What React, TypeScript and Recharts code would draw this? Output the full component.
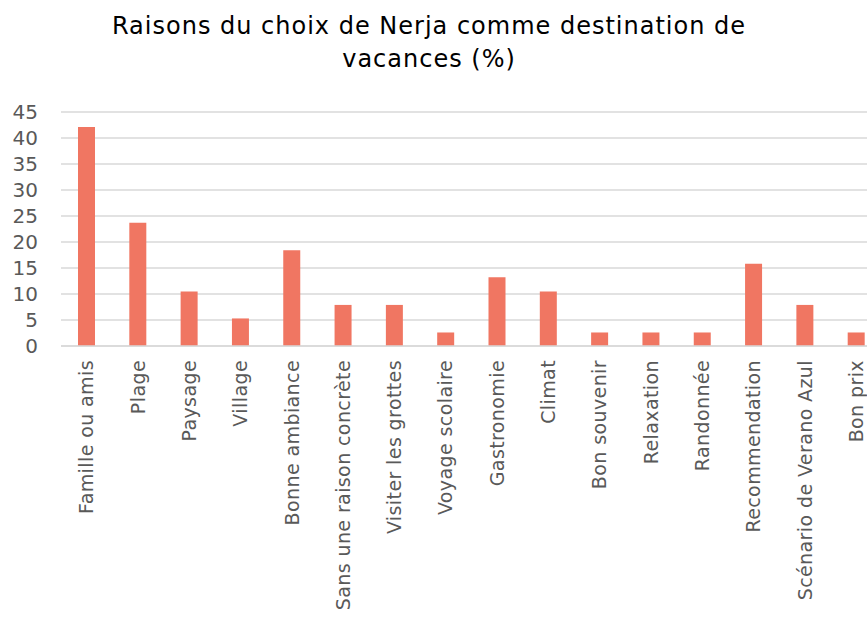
import React from 'react';
import { BarChart, Bar, XAxis, YAxis, CartesianGrid } from 'recharts';

const categories = [
  'Famille ou amis', 'Plage', 'Paysage', 'Village', 'Bonne ambiance',
  'Sans une raison concrète', 'Visiter les grottes', 'Voyage scolaire',
  'Gastronomie', 'Climat', 'Bon souvenir', 'Relaxation', 'Randonnée',
  'Recommendation', 'Scénario de Verano Azul', 'Bon prix',
];
const values = [42.1, 23.7, 10.5, 5.3, 18.4, 7.9, 7.9, 2.6, 13.2, 10.5, 2.6, 2.6, 2.6, 15.8, 7.9, 2.6];
const yTicks = [0, 5, 10, 15, 20, 25, 30, 35, 40, 45];
const title1 = 'Raisons du choix de Nerja comme destination de';
const title2 = 'vacances (%)';

const data = categories.map((name, i) => ({ name, value: values[i] }));

const FONT = '"Century Gothic", "DejaVu Sans", sans-serif';

const XTick = (props: any) => {
  const { x, y, payload } = props;
  return (
    <text
      x={x}
      y={y}
      dy="0.35em"
      transform={`rotate(-90, ${x}, ${y})`}
      textAnchor="end"
      fill="#595959"
      fontSize={19}
      letterSpacing={0.4}
      fontFamily={FONT}
    >
      {payload.value}
    </text>
  );
};

export default function App() {
  return (
    <div style={{ position: 'fixed', left: 0, top: 0, width: 867, height: 617, overflow: 'hidden', background: '#fff' }}>
      <div
        style={{
          position: 'absolute', left: 0, top: 10, width: 858, textAlign: 'center',
          fontFamily: FONT, fontSize: 24, lineHeight: '33px', color: '#000', letterSpacing: 1,
        }}
      >
        <div>{title1}</div>
        <div>{title2}</div>
      </div>
      <div style={{ position: 'absolute', left: 0, top: 0 }}>
        <BarChart
          width={900}
          height={640}
          data={data}
          margin={{ top: 112, right: 18, bottom: 0, left: 0 }}
          barSize={17}
        >
          <CartesianGrid vertical={false} stroke="#D9D9D9" strokeWidth={1.5} />
          <XAxis
            dataKey="name"
            interval={0}
            height={294}
            tickLine={false}
            axisLine={{ stroke: '#D9D9D9', strokeWidth: 1.5 }}
            tick={<XTick />}
            tickMargin={8}
          />
          <YAxis
            domain={[0, 45]}
            ticks={yTicks}
            interval={0}
            width={61}
            tickLine={false}
            axisLine={false}
            tickMargin={17}
            tick={{ fill: '#595959', fontSize: 20, fontFamily: FONT }}
          />
          <Bar dataKey="value" fill="#F07662" isAnimationActive={false} />
        </BarChart>
      </div>
    </div>
  );
}
